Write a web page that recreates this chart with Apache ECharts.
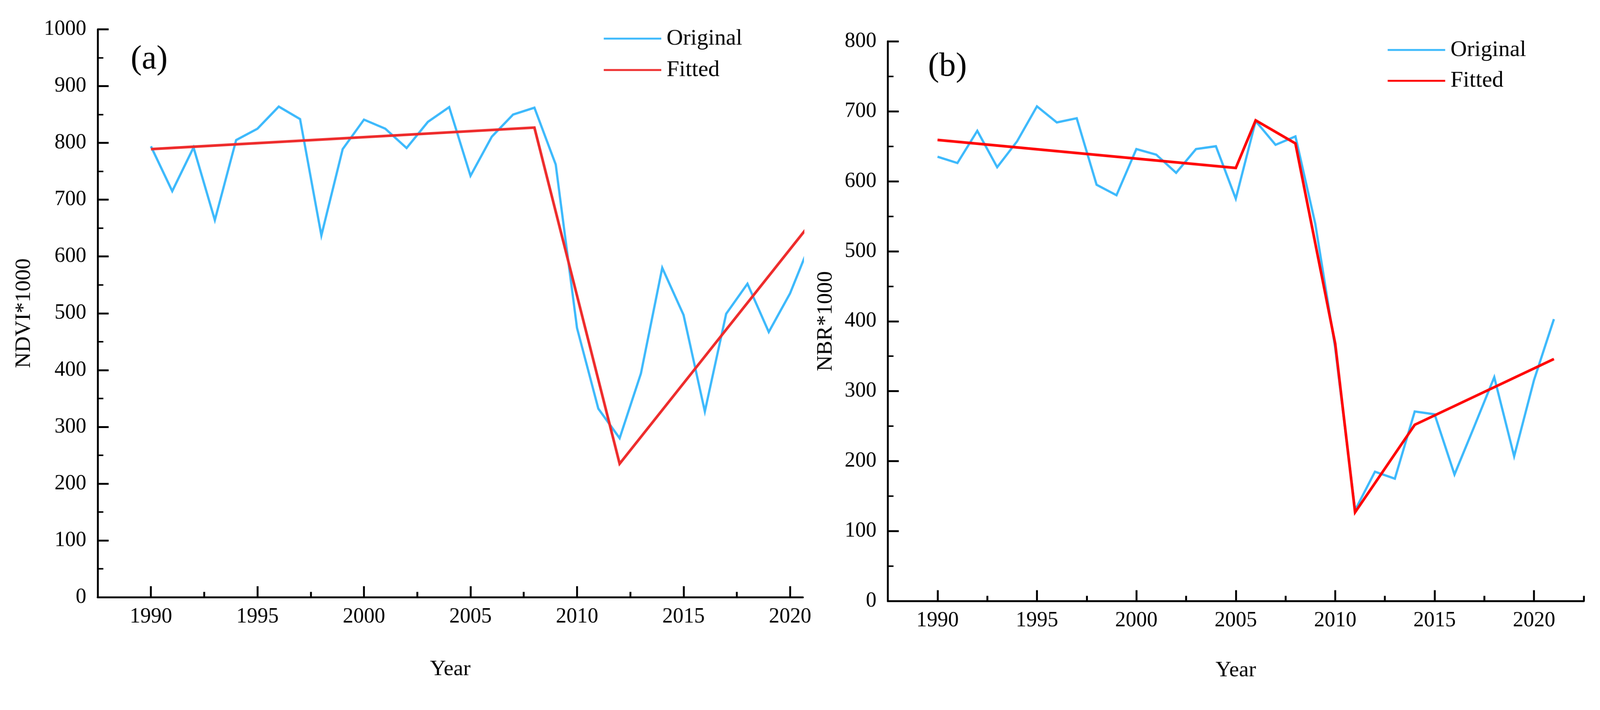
<!DOCTYPE html>
<html><head><meta charset="utf-8">
<script src="https://cdn.jsdelivr.net/npm/echarts@6/dist/echarts.min.js"></script>
<style>html,body{margin:0;padding:0;background:#fff;overflow:hidden}#c{width:4227px;height:1818px;transform-origin:0 0}</style>
</head><body><div id="c"></div>
<script>
const years = [1990,1991,1992,1993,1994,1995,1996,1997,1998,1999,2000,2001,2002,2003,2004,2005,2006,2007,2008,2009,2010,2011,2012,2013,2014,2015,2016,2017,2018,2019,2020,2021];
const ndviOriginal = [794,715,792,664,805,825,864,842,637,789,841,825,791,837,863,742,811,850,862,762,474,332,280,394,580,497,327,499,552,467,535,628];
const ndviFittedYears = [1990,2008,2012,2021];
const ndviFitted = [789,827,235,660];
const nbrOriginal = [635,626,672,620,657,707,684,690,595,580,646,638,612,646,650,575,686,652,664,539,362,130,185,175,271,267,181,250,320,207,316,403];
const nbrFittedYears = [1990,2005,2006,2008,2010,2011,2014,2021];
const nbrFitted = [659,619,687,654,368,127,252,346];
const majorYearTicks = [1990,1995,2000,2005,2010,2015,2020];
const minorYearTicksA = [1992.5,1997.5,2002.5,2007.5,2012.5,2017.5];
const minorYearTicksB = [1992.5,1997.5,2002.5,2007.5,2012.5,2017.5,2022.5];
const legendNames = ['Original','Fitted'];
const panelLabels = ['(a)','(b)'];
const yNames = ['NDVI*1000','NBR*1000'];
const xName = 'Year';

const FONT = '"Liberation Serif", "DejaVu Serif", serif';
const BLUE = '#3cb9fc';
const RED_A = '#ee2b2b';
const RED_B = '#ff0000';

// fit the 4227x1818 design into the actual window
(function(){
  const el = document.getElementById('c');
  const s = Math.min(window.innerWidth/4227, window.innerHeight/1818);
  if (s > 0 && Math.abs(s-1) > 0.001) el.style.transform = 'scale(' + s + ')';
})();

function pairs(xs, ys){ return xs.map((x,i)=>[x, ys[i]]); }

function mainX(gi, max, gap){
  return {
    type:'value', gridIndex:gi, min:1987.5, max:max,
    name:xName, nameLocation:'middle', nameGap:gap,
    nameTextStyle:{fontFamily:FONT,fontSize:58,color:'#000'},
    axisLine:{show:true,onZero:false,lineStyle:{color:'#000',width:5}},
    axisTick:{show:true,inside:true,length:29,lineStyle:{color:'#000',width:5},customValues:majorYearTicks},
    axisLabel:{show:true,margin:24,fontFamily:FONT,fontSize:56,color:'#000',customValues:majorYearTicks,formatter:v=>String(v)},
    splitLine:{show:false}, minorTick:{show:false}
  };
}
function minorX(gi, max, ticks){
  return {
    type:'value', gridIndex:gi, min:1987.5, max:max,
    axisLine:{show:false,onZero:false},
    axisTick:{show:true,inside:true,length:14,lineStyle:{color:'#000',width:5},customValues:ticks},
    axisLabel:{show:false}, splitLine:{show:false}
  };
}
function mainY(gi, max, name, gap){
  return {
    type:'value', gridIndex:gi, min:0, max:max, interval:100,
    name:name, nameLocation:'middle', nameGap:gap,
    nameTextStyle:{fontFamily:FONT,fontSize:58,color:'#000'},
    axisLine:{show:true,onZero:false,lineStyle:{color:'#000',width:5}},
    axisTick:{show:true,inside:true,length:29,lineStyle:{color:'#000',width:5}},
    minorTick:{show:true,splitNumber:2,length:15,lineStyle:{color:'#000',width:4}},
    axisLabel:{show:true,margin:30,fontFamily:FONT,fontSize:56,color:'#000',formatter:v=>String(v)},
    splitLine:{show:false}, minorSplitLine:{show:false}
  };
}
function hiddenY(gi){ return {type:'value',gridIndex:gi,min:0,max:1,show:false}; }

function legend(left, top, gap, red){
  return {
    orient:'vertical', left:left, top:top, padding:0, itemGap:gap,
    itemWidth:152, itemHeight:5, icon:'rect', selectedMode:false,
    data:[{name:legendNames[0],itemStyle:{color:BLUE}},{name:legendNames[1],itemStyle:{color:red}}],
    textStyle:{fontFamily:FONT,fontSize:60,lineHeight:60,color:'#000',padding:[0,0,0,9]}
  };
}

const option = {
  animation:false,
  backgroundColor:'#fff',
  grid:[
    {left:258, top:77.5, width:1863, height:1500.5},
    {left:258, top:77.5, width:1863, height:1500.5},
    {left:2345.5, top:109, width:1838.5, height:1479.5},
    {left:2345.5, top:109, width:1838.5, height:1479.5}
  ],
  xAxis:[ mainX(0, 2020.6, 162), minorX(1, 2020.6, minorYearTicksA), mainX(2, 2022.5, 154), minorX(3, 2022.5, minorYearTicksB) ],
  yAxis:[ mainY(0, 1000, yNames[0], 165), hiddenY(1), mainY(2, 800, yNames[1], 135), hiddenY(3) ],
  legend:[ legend(1595, 72, 23, RED_A), legend(3666, 102, 21.5, RED_B) ],
  graphic:[
    {type:'text', x:394, y:158, style:{text:panelLabels[0], font:'88px "Liberation Serif"', fill:'#000', textAlign:'center', textVerticalAlign:'middle'}},
    {type:'text', x:2503, y:177, style:{text:panelLabels[1], font:'88px "Liberation Serif"', fill:'#000', textAlign:'center', textVerticalAlign:'middle'}}
  ],
  series:[
    {type:'line', name:legendNames[0], xAxisIndex:0, yAxisIndex:0, data:pairs(years, ndviOriginal), showSymbol:false, symbol:'none', z:2,
     lineStyle:{color:BLUE,width:6,join:'miter'}, itemStyle:{color:BLUE}},
    {type:'line', name:legendNames[1], xAxisIndex:0, yAxisIndex:0, data:pairs(ndviFittedYears, ndviFitted), showSymbol:false, symbol:'none', z:3,
     lineStyle:{color:RED_A,width:7,join:'miter'}, itemStyle:{color:RED_A}},
    {type:'line', name:legendNames[0], xAxisIndex:2, yAxisIndex:2, data:pairs(years, nbrOriginal), showSymbol:false, symbol:'none', z:2,
     lineStyle:{color:BLUE,width:6,join:'miter'}, itemStyle:{color:BLUE}},
    {type:'line', name:legendNames[1], xAxisIndex:2, yAxisIndex:2, data:pairs(nbrFittedYears, nbrFitted), showSymbol:false, symbol:'none', z:3,
     lineStyle:{color:RED_B,width:7,join:'miter'}, itemStyle:{color:RED_B}}
  ]
};
const chart = echarts.init(document.getElementById('c'), null, {renderer:'canvas'});
chart.setOption(option);
</script>
</body></html>
